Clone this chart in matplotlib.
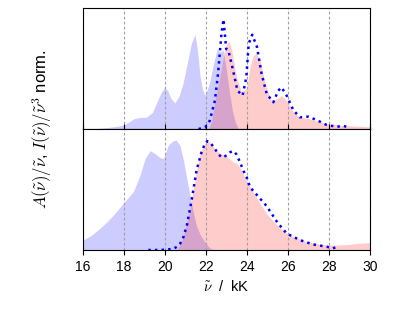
import numpy as np
import matplotlib
matplotlib.use("Agg")
import matplotlib.pyplot as plt

plt.rcParams['mathtext.fontset'] = 'cm'
plt.rcParams['font.family'] = ['Liberation Sans', 'DejaVu Sans']
plt.rcParams['font.size'] = 10

# ---- top panel ----
top_abs_x = [16.4, 17.0, 17.5, 18.0, 18.3, 18.5, 18.8, 19.1, 19.4, 19.7, 19.85, 20.0, 20.15, 20.3, 20.5,
             20.7, 20.9, 21.1, 21.3, 21.48, 21.6, 21.72, 21.85, 21.96, 22.1, 22.2, 22.35, 22.45, 22.56,
             22.69, 22.85, 23.0, 23.15, 23.3, 23.45, 23.6]
top_abs_y = [0.0, 0.01, 0.02, 0.035, 0.07, 0.095, 0.105, 0.107, 0.15, 0.28, 0.34, 0.379, 0.35, 0.28, 0.238,
             0.3, 0.42, 0.6, 0.78, 0.864, 0.72, 0.49, 0.36, 0.308, 0.37, 0.43, 0.57, 0.644, 0.73,
             0.70, 0.72, 0.55, 0.35, 0.17, 0.06, 0.0]

top_em_x = [22.15, 22.3, 22.5, 22.7, 22.9, 23.0, 23.15, 23.27, 23.4, 23.5, 23.75, 24.0, 24.16, 24.3,
            24.45, 24.65, 24.9, 25.2, 25.46, 25.7, 25.95, 26.3, 26.6, 27.0, 27.4, 27.9, 28.5, 29.0, 29.5, 30.0]
top_em_y = [0.0, 0.08, 0.3, 0.48, 0.7, 0.77, 0.80, 0.72, 0.58, 0.47, 0.34, 0.37, 0.565, 0.66,
            0.69, 0.63, 0.41, 0.26, 0.275, 0.305, 0.26, 0.15, 0.107, 0.095, 0.075, 0.05, 0.035, 0.03, 0.025, 0.02]

top_line_x = [21.65, 21.97, 22.2, 22.45, 22.6, 22.77, 22.87, 23.0, 23.1, 23.3, 23.55, 23.8, 23.98, 24.1,
              24.27, 24.5, 24.73, 24.98, 25.3, 25.54, 25.7, 25.95, 26.28, 26.6, 27.0, 27.4, 27.9, 28.4, 28.7, 28.95]
top_line_y = [0.0, 0.015, 0.076, 0.26, 0.5, 0.87, 1.0, 0.73, 0.72, 0.565, 0.35, 0.305, 0.47, 0.78,
              0.86, 0.75, 0.5, 0.32, 0.244, 0.35, 0.38, 0.305, 0.17, 0.107, 0.113, 0.083, 0.037, 0.02, 0.03, 0.015]

# ---- bottom panel ----
bot_abs_x = [16.0, 16.4, 16.85, 17.2, 17.5, 17.98, 18.47, 18.8, 19.04, 19.29, 19.5, 19.77, 19.94, 20.18,
             20.4, 20.56, 20.75, 20.92, 21.16, 21.4, 21.55, 21.73, 21.9, 22.05, 22.2, 22.4]
bot_abs_y = [0.09, 0.13, 0.197, 0.26, 0.318, 0.424, 0.53, 0.68, 0.83, 0.903, 0.88, 0.84, 0.83, 0.955,
             0.99, 1.0, 0.95, 0.81, 0.57, 0.34, 0.22, 0.14, 0.09, 0.05, 0.02, 0.0]

bot_em_x = [20.6, 20.9, 21.23, 21.4, 21.56, 21.74, 21.88, 22.0, 22.13, 22.3, 22.53, 22.8, 23.02, 23.35,
            23.5, 23.7, 23.9, 24.2, 24.5, 24.97, 25.47, 25.9, 26.3, 26.9, 27.4, 27.9, 28.4, 28.9, 29.4, 30.0]
bot_em_y = [0.0, 0.12, 0.36, 0.55, 0.73, 0.89, 0.94, 0.98, 0.99, 0.96, 0.90, 0.87, 0.85, 0.80,
            0.79, 0.74, 0.66, 0.56, 0.47, 0.33, 0.23, 0.16, 0.12, 0.076, 0.06, 0.045, 0.045, 0.05, 0.06, 0.067]

bot_line_x = [19.2, 19.8, 20.42, 20.6, 20.76, 20.92, 21.09, 21.33, 21.56, 21.8, 21.97, 22.08, 22.25, 22.45,
              22.62, 22.8, 23.02, 23.2, 23.35, 23.5, 23.67, 23.84, 24.0, 24.17, 24.5, 24.97, 25.5, 25.95,
              26.6, 27.25, 27.9, 28.2, 28.35, 28.5]
bot_line_y = [0.0, 0.0, 0.01, 0.03, 0.06, 0.12, 0.23, 0.47, 0.73, 0.89, 0.97, 0.99, 0.97, 0.92,
              0.87, 0.84, 0.86, 0.89, 0.90, 0.87, 0.80, 0.72, 0.66, 0.57, 0.50, 0.40, 0.25, 0.15,
              0.09, 0.05, 0.03, 0.015, 0.025, 0.01]

xticks = [16, 18, 20, 22, 24, 26, 28, 30]

fig = plt.figure(figsize=(4.12, 3.12), dpi=100)
ax1 = fig.add_axes([0.2007, 0.5865, 0.6966, 0.3865])
ax2 = fig.add_axes([0.2007, 0.1987, 0.6966, 0.3878], sharex=ax1)

panels = [
    (ax1, top_abs_x, top_abs_y, top_em_x, top_em_y, top_line_x, top_line_y),
    (ax2, bot_abs_x, bot_abs_y, bot_em_x, bot_em_y, bot_line_x, bot_line_y),
]
for ax, ax_x, ax_y, ex, ey, lx, ly in panels:
    ax.fill_between(ax_x, 0, ax_y, color='blue', alpha=0.2, lw=0)
    ax.fill_between(ex, 0, ey, color='red', alpha=0.2, lw=0)
    ax.plot(lx, ly, color='blue', ls=':', lw=1.8)
    ax.set_xlim(16, 30)
    ax.set_ylim(0, 1.1)
    ax.set_yticks([])
    ax.set_xticks(xticks)
    ax.grid(axis='x', color='#a0a0a0', ls=(0, (2.5, 2)), lw=0.8)

ax1.tick_params(axis='x', direction='in', labelbottom=False)
ax2.set_xlabel(r'$\tilde{\nu}$  /  kK', fontsize=10.5)
fig.text(0.102, 0.5865, r'$A(\tilde{\nu})/\tilde{\nu}$, $I(\tilde{\nu})/\tilde{\nu}^3$ norm.',
         rotation=90, ha='center', va='center', fontsize=12)

fig.savefig('out.png', dpi=100)
